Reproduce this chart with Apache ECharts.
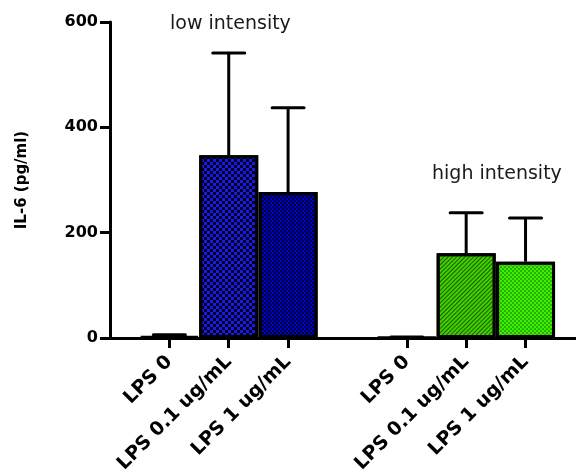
<!DOCTYPE html>
<html>
<head>
<meta charset="utf-8">
<script src="https://cdn.jsdelivr.net/npm/echarts@6/dist/echarts.min.js"></script>
<style>html,body{margin:0;padding:0;background:#fff;}#c{width:576px;height:476px;}</style>
</head>
<body>
<div id="c"></div>
<script>
// slot positions on the x axis (slot 4 is the gap between the two groups)
var slots = [1, 2, 3, 5, 6, 7];
var tickLabels = ['LPS 0', 'LPS 0.1 ug/mL', 'LPS 1 ug/mL', 'LPS 0', 'LPS 0.1 ug/mL', 'LPS 1 ug/mL'];
var means = [3, 347, 277, 1, 161, 145];
var errors = [3, 194, 160, 1, 77, 83];
var yTicks = [0, 200, 400, 600];
var groupTitles = ['low intensity', 'high intensity'];

var checkerBig = { symbol: 'rect', symbolSize: 1, color: '#00001e', dashArrayX: [[3, 3], [0, 3, 3, 0]], dashArrayY: [3, 0] };
var checkerSmall = { symbol: 'rect', symbolSize: 1, color: '#000038', dashArrayX: [[2, 2], [0, 2, 2, 0]], dashArrayY: [2, 0] };
var stripes = { symbol: 'rect', symbolSize: 1, color: '#1f5c00', dashArrayX: [1, 0], dashArrayY: [1, 2], rotation: -Math.PI / 4 };
var dots = { symbol: 'rect', symbolSize: 1, color: '#27b000', dashArrayX: [[2, 2], [0, 2, 2, 0]], dashArrayY: [2, 0] };

var styles = [
  { color: '#ffffff' },
  { color: '#1a1ae6', decal: checkerBig },
  { color: '#0000c4', decal: checkerSmall },
  { color: '#ffffff' },
  { color: '#3fd000', decal: stripes },
  { color: '#3cf000', decal: dots }];

var barData = means.map(function (v, i) {
  var s = styles[i];
  return { value: [slots[i], v], itemStyle: { color: s.color, decal: s.decal, borderColor: '#000', borderWidth: 3 } };
});
var errData = means.map(function (v, i) { return [slots[i], v, errors[i]]; });

function labelFor(val) {
  var i = slots.indexOf(Math.round(val));
  return i >= 0 ? tickLabels[i] : '';
}

var chart = echarts.init(document.getElementById('c'), null, { renderer: 'canvas' });
chart.setOption({
  animation: false,
  backgroundColor: '#ffffff',
  grid: { left: 110, top: 22, bottom: 138, right: 0, containLabel: false },
  xAxis: {
    type: 'value', min: 0, max: 7.85,
    axisLine: { show: true, onZero: false, lineStyle: { color: '#000', width: 3 } },
    axisTick: { show: true, length: 10, lineStyle: { color: '#000', width: 3 }, customValues: slots },
    axisLabel: {
      customValues: slots, rotate: 45, margin: 21,
      fontFamily: 'DejaVu Sans', fontWeight: 'bold', fontSize: 19, color: '#000',
      formatter: function (val) { return labelFor(val); }
    },
    splitLine: { show: false }
  },
  yAxis: {
    type: 'value', min: yTicks[0], max: yTicks[yTicks.length - 1], interval: 200,
    name: 'IL-6 (pg/ml)', nameLocation: 'middle', nameGap: 80,
    nameTextStyle: { fontFamily: 'DejaVu Sans', fontWeight: 'bold', fontSize: 15, color: '#000' },
    axisLine: { show: true, lineStyle: { color: '#000', width: 3 } },
    axisTick: { show: true, length: 10, lineStyle: { color: '#000', width: 3 } },
    axisLabel: { margin: 12, fontFamily: 'DejaVu Sans', fontWeight: 'bold', fontSize: 16, color: '#000' },
    splitLine: { show: false }
  },
  series: [
    { type: 'bar', data: barData, barWidth: 59, z: 2 },
    { type: 'custom', data: errData, z: 3,
      encode: { x: 0, y: 1 },
      renderItem: function (params, api) {
        var idx = api.value(0), m = api.value(1), e = api.value(2);
        var base = api.coord([idx, m]);
        var top = api.coord([idx, m + e]);
        var half = 16;
        return { type: 'group', children: [
          { type: 'line', shape: { x1: base[0], y1: base[1], x2: top[0], y2: top[1] }, style: { stroke: '#000', lineWidth: 3 } },
          { type: 'line', shape: { x1: top[0] - half, y1: top[1], x2: top[0] + half, y2: top[1] }, style: { stroke: '#000', lineWidth: 3, lineCap: 'round' } }
        ] };
      }
    }
  ],
  graphic: [
    { type: 'text', left: 170, top: 15, style: { text: groupTitles[0], font: '19px "DejaVu Sans"', fill: '#1a1a1a' } },
    { type: 'text', left: 432, top: 165, style: { text: groupTitles[1], font: '19px "DejaVu Sans"', fill: '#1a1a1a' } }
  ]
});
</script>
</body>
</html>
